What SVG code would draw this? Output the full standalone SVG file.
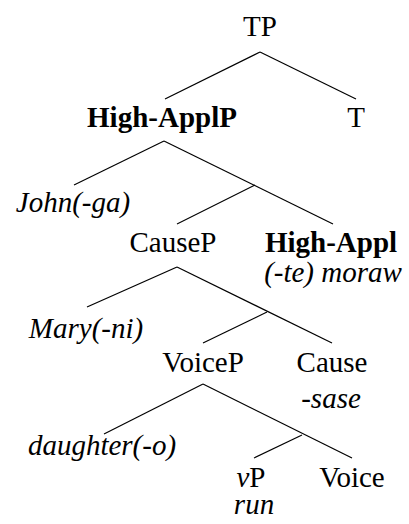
<svg xmlns="http://www.w3.org/2000/svg" width="409" height="524" viewBox="0 0 409 524" font-family="'Liberation Serif', 'DejaVu Serif', serif">
<style>
text { font-size: 29px; fill: #000; text-anchor: middle; }
.b { font-weight: bold; }
.i { font-style: italic; }
.e line { stroke: #000; stroke-width: 1.2; }
</style>
<rect width="409" height="524" fill="#fff"/>
<g id="edges" class="e">
<line x1="260" y1="52" x2="165" y2="99"/>
<line x1="260" y1="52" x2="356" y2="99"/>
<line x1="164" y1="141" x2="74" y2="185"/>
<line x1="164" y1="141" x2="333" y2="224"/>
<line x1="255" y1="185" x2="177" y2="224"/>
<line x1="177" y1="267" x2="87" y2="307"/>
<line x1="177" y1="267" x2="332" y2="343"/>
<line x1="267" y1="312" x2="203" y2="343"/>
<line x1="203" y1="384" x2="104" y2="434"/>
<line x1="203" y1="384" x2="352" y2="458"/>
<line x1="302" y1="435" x2="254" y2="458"/>
</g>
<g id="TP"><text x="260" y="36">TP</text></g>
<g id="HighApplP"><text class="b" x="162" y="127">High-ApplP</text></g>
<g id="T"><text x="356" y="127">T</text></g>
<g id="John"><text class="i" x="73" y="212">John(-ga)</text></g>
<g id="CauseP"><text x="173" y="252">CauseP</text></g>
<g id="HighAppl"><text class="b" x="331" y="252">High-Appl</text><text class="i" x="333" y="282">(-te) moraw</text></g>
<g id="Mary"><text class="i" x="86" y="338">Mary(-ni)</text></g>
<g id="VoiceP"><text x="203" y="372">VoiceP</text></g>
<g id="Cause"><text x="332" y="372">Cause</text><text class="i" x="331" y="408">-sase</text></g>
<g id="daughter"><text class="i" x="102" y="455">daughter(-o)</text></g>
<g id="vP"><text x="251" y="487"><tspan class="i">v</tspan>P</text><text class="i" x="254" y="514">run</text></g>
<g id="Voice"><text x="352" y="487">Voice</text></g>
</svg>
